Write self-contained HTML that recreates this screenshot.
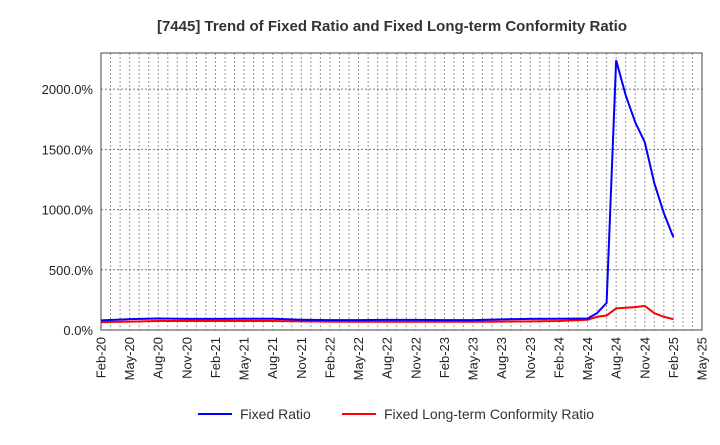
<!DOCTYPE html>
<html><head><meta charset="utf-8"><style>
body{margin:0;background:#fff;font-family:"Liberation Sans",sans-serif}
</style></head><body>
<svg id="c" width="720" height="440" xmlns="http://www.w3.org/2000/svg">
<text x="392" y="31" text-anchor="middle" font-size="15" font-weight="bold" fill="#333">[7445]  Trend of Fixed Ratio and Fixed Long-term Conformity Ratio</text>
<g id="grid"></g><g id="axes"></g><g id="series"></g>
<g>
<line x1="198" y1="414" x2="232" y2="414" stroke="#0000ff" stroke-width="2"/>
<text x="240" y="419" font-size="14" fill="#333">Fixed Ratio</text>
<line x1="342" y1="414" x2="376" y2="414" stroke="#ff0000" stroke-width="2"/>
<text x="384" y="419" font-size="14" fill="#333">Fixed Long-term Conformity Ratio</text>
</g>
</svg>
<script>
const xLabels=["Feb-20","May-20","Aug-20","Nov-20","Feb-21","May-21","Aug-21","Nov-21","Feb-22","May-22","Aug-22","Nov-22","Feb-23","May-23","Aug-23","Nov-23","Feb-24","May-24","Aug-24","Nov-24","Feb-25","May-25"];
const yTicks=[0,500,1000,1500,2000];
const monthIdx=[0,3,6,9,12,15,18,21,24,27,30,33,36,39,42,45,48,51,52,53,54,55,56,57,58,59,60];
const fixedRatio=[80,90,95,92,92,93,93,85,82,82,84,84,82,82,88,92,93,95,140,225,2240,1950,1725,1560,1220,970,770];
const conformityRatio=[65,70,75,75,75,75,75,72,70,68,68,68,68,68,70,72,75,85,110,120,180,185,190,200,140,110,90];
const L=101,R=702,T=53,B=330,yMax=2300;
const ns="http://www.w3.org/2000/svg";
const X=m=>L+(R-L)*m/63;
const Y=v=>B-(B-T)*v/yMax;
function mk(t,a,p){const e=document.createElementNS(ns,t);for(const k in a)e.setAttribute(k,a[k]);p.appendChild(e);return e;}
const g=document.getElementById('grid'),ax=document.getElementById('axes'),s=document.getElementById('series');
for(let m=1;m<63;m++){const l=mk('line',{x1:X(m),x2:X(m),y1:T,y2:B,stroke:'#999','stroke-dasharray':'2,2'},g);

}
yTicks.forEach(v=>{if(v>0){const l=mk('line',{x1:L,x2:R,y1:Y(v),y2:Y(v),stroke:'#777','stroke-dasharray':'2,2'},g);

}
const t=mk('text',{x:L-8,y:Y(v)+5,'text-anchor':'end','font-size':13,fill:'#222'},ax);t.textContent=v.toFixed(1)+'%';

});
xLabels.forEach((lab,i)=>{const x=X(i*3);const t=mk('text',{transform:`translate(${x+4.5},${B+7}) rotate(-90)`,'text-anchor':'end','font-size':13,fill:'#222'},ax);t.textContent=lab;

});
const fr=mk('rect',{x:L,y:T,width:R-L,height:B-T,fill:'none',stroke:'#444','stroke-width':1},ax);


function line(vals,col,name){const p=mk('polyline',{points:vals.map((v,i)=>X(monthIdx[i])+','+Y(v)).join(' '),fill:'none',stroke:col,'stroke-width':2},s);

}
line(conformityRatio,'#ff0000','conformity-ratio-line');
line(fixedRatio,'#0000ff','fixed-ratio-line');
</script>
</body></html>
